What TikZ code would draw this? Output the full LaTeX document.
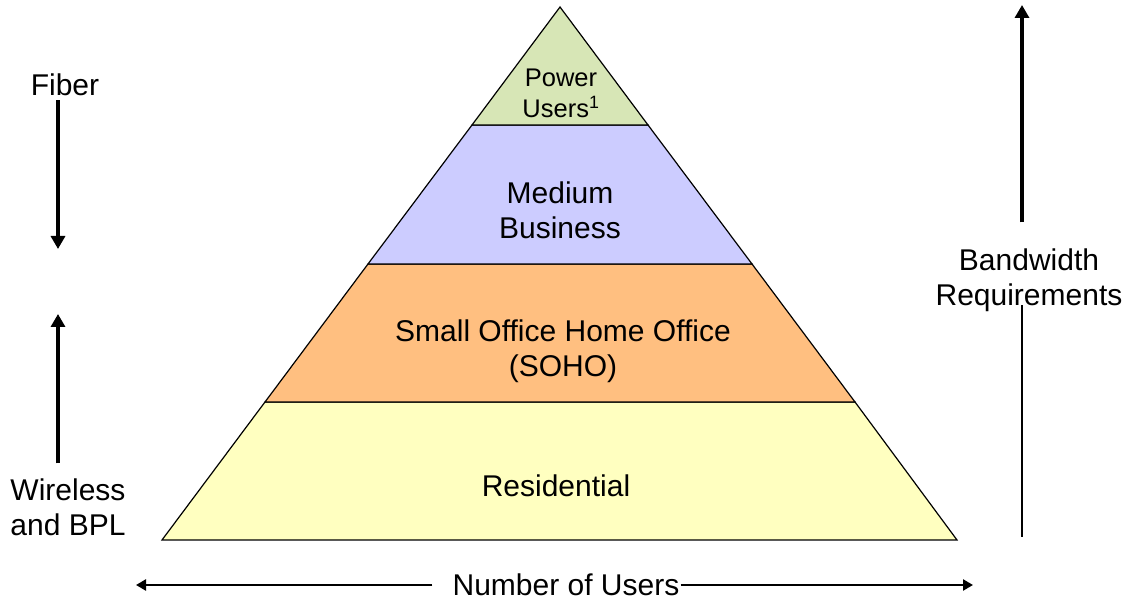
\documentclass[tikz,border=0pt]{standalone}
\usepackage{fontspec}
\setmainfont{Liberation Sans}
\usetikzlibrary{arrows.meta}
\definecolor{powergreen}{RGB}{215,230,182}
\definecolor{mediumblue}{RGB}{204,204,255}
\definecolor{sohoorange}{RGB}{255,191,128}
\definecolor{resyellow}{RGB}{255,255,192}

\begin{document}
\begin{tikzpicture}[x=1pt,y=-1pt]
\tikzstyle{every node}+=[inner sep=0pt, align=center, font=\fontsize{30}{35}\selectfont]
\tikzstyle{band}=[draw=black, line width=1.2pt]
\tikzstyle{thickarrow}=[line width=3.2pt, -{Triangle[length=13pt,width=14pt]}]
\tikzstyle{usersarrow}=[line width=2.4pt, -{Triangle[length=10pt,width=11pt]}]
\useasboundingbox (0,0) rectangle (1128,601);
% pyramid bands, bottom to top
\filldraw [band, fill=resyellow] (162,540) -- (957,540) -- (855,402) -- (265,402) -- cycle;
\filldraw [band, fill=sohoorange] (265,402) -- (855,402) -- (752,264) -- (368,264) -- cycle;
\filldraw [band, fill=mediumblue] (368,264) -- (752,264) -- (648,125) -- (472,125) -- cycle;
\filldraw [band, fill=powergreen] (472,125) -- (648,125) -- (560,7) -- cycle;
\node (power) [font=\fontsize{25.5}{31}\selectfont] at (561,93) {Power\\Users\textsuperscript{1}};
\node (medium) at (560,210) {Medium\\Business};
\node (soho) at (563,351) {Small Office Home Office\\(SOHO)};
\node (res) at (556,486) {Residential};
% left side
\node (fiber) at (65,85) {Fiber};
\node (wireless) at (68,507) {Wireless\\and BPL};
\coordinate (fiberend) at (58,249);
\coordinate (wirelessend) at (58,314);
\draw [thickarrow, shorten <=4pt] (fiber.south -| fiberend) -- (fiberend);
\draw [thickarrow, shorten <=15pt] (wireless.north -| wirelessend) -- (wirelessend);
% bottom
\node (users) at (566,585) {Number of Users};
\coordinate (usersleft) at (136,585);
\coordinate (usersright) at (973,585);
\draw [usersarrow, shorten <=20pt] (users.west) -- (usersleft);
\draw [usersarrow, shorten <=1pt] (users.east) -- (usersright);
% right side
\node (bandwidth) at (1029,280) {Bandwidth\\Requirements};
\coordinate (bwtop) at (1022,5);
\coordinate (bwlow) at (1022,305);
\coordinate (bwbottom) at (1022,537);
\draw [thickarrow, shorten <=26pt] (bandwidth.north -| bwtop) -- (bwtop);
\draw [line width=1.5pt] (bwlow) -- (bwbottom);
\end{tikzpicture}
\end{document}
